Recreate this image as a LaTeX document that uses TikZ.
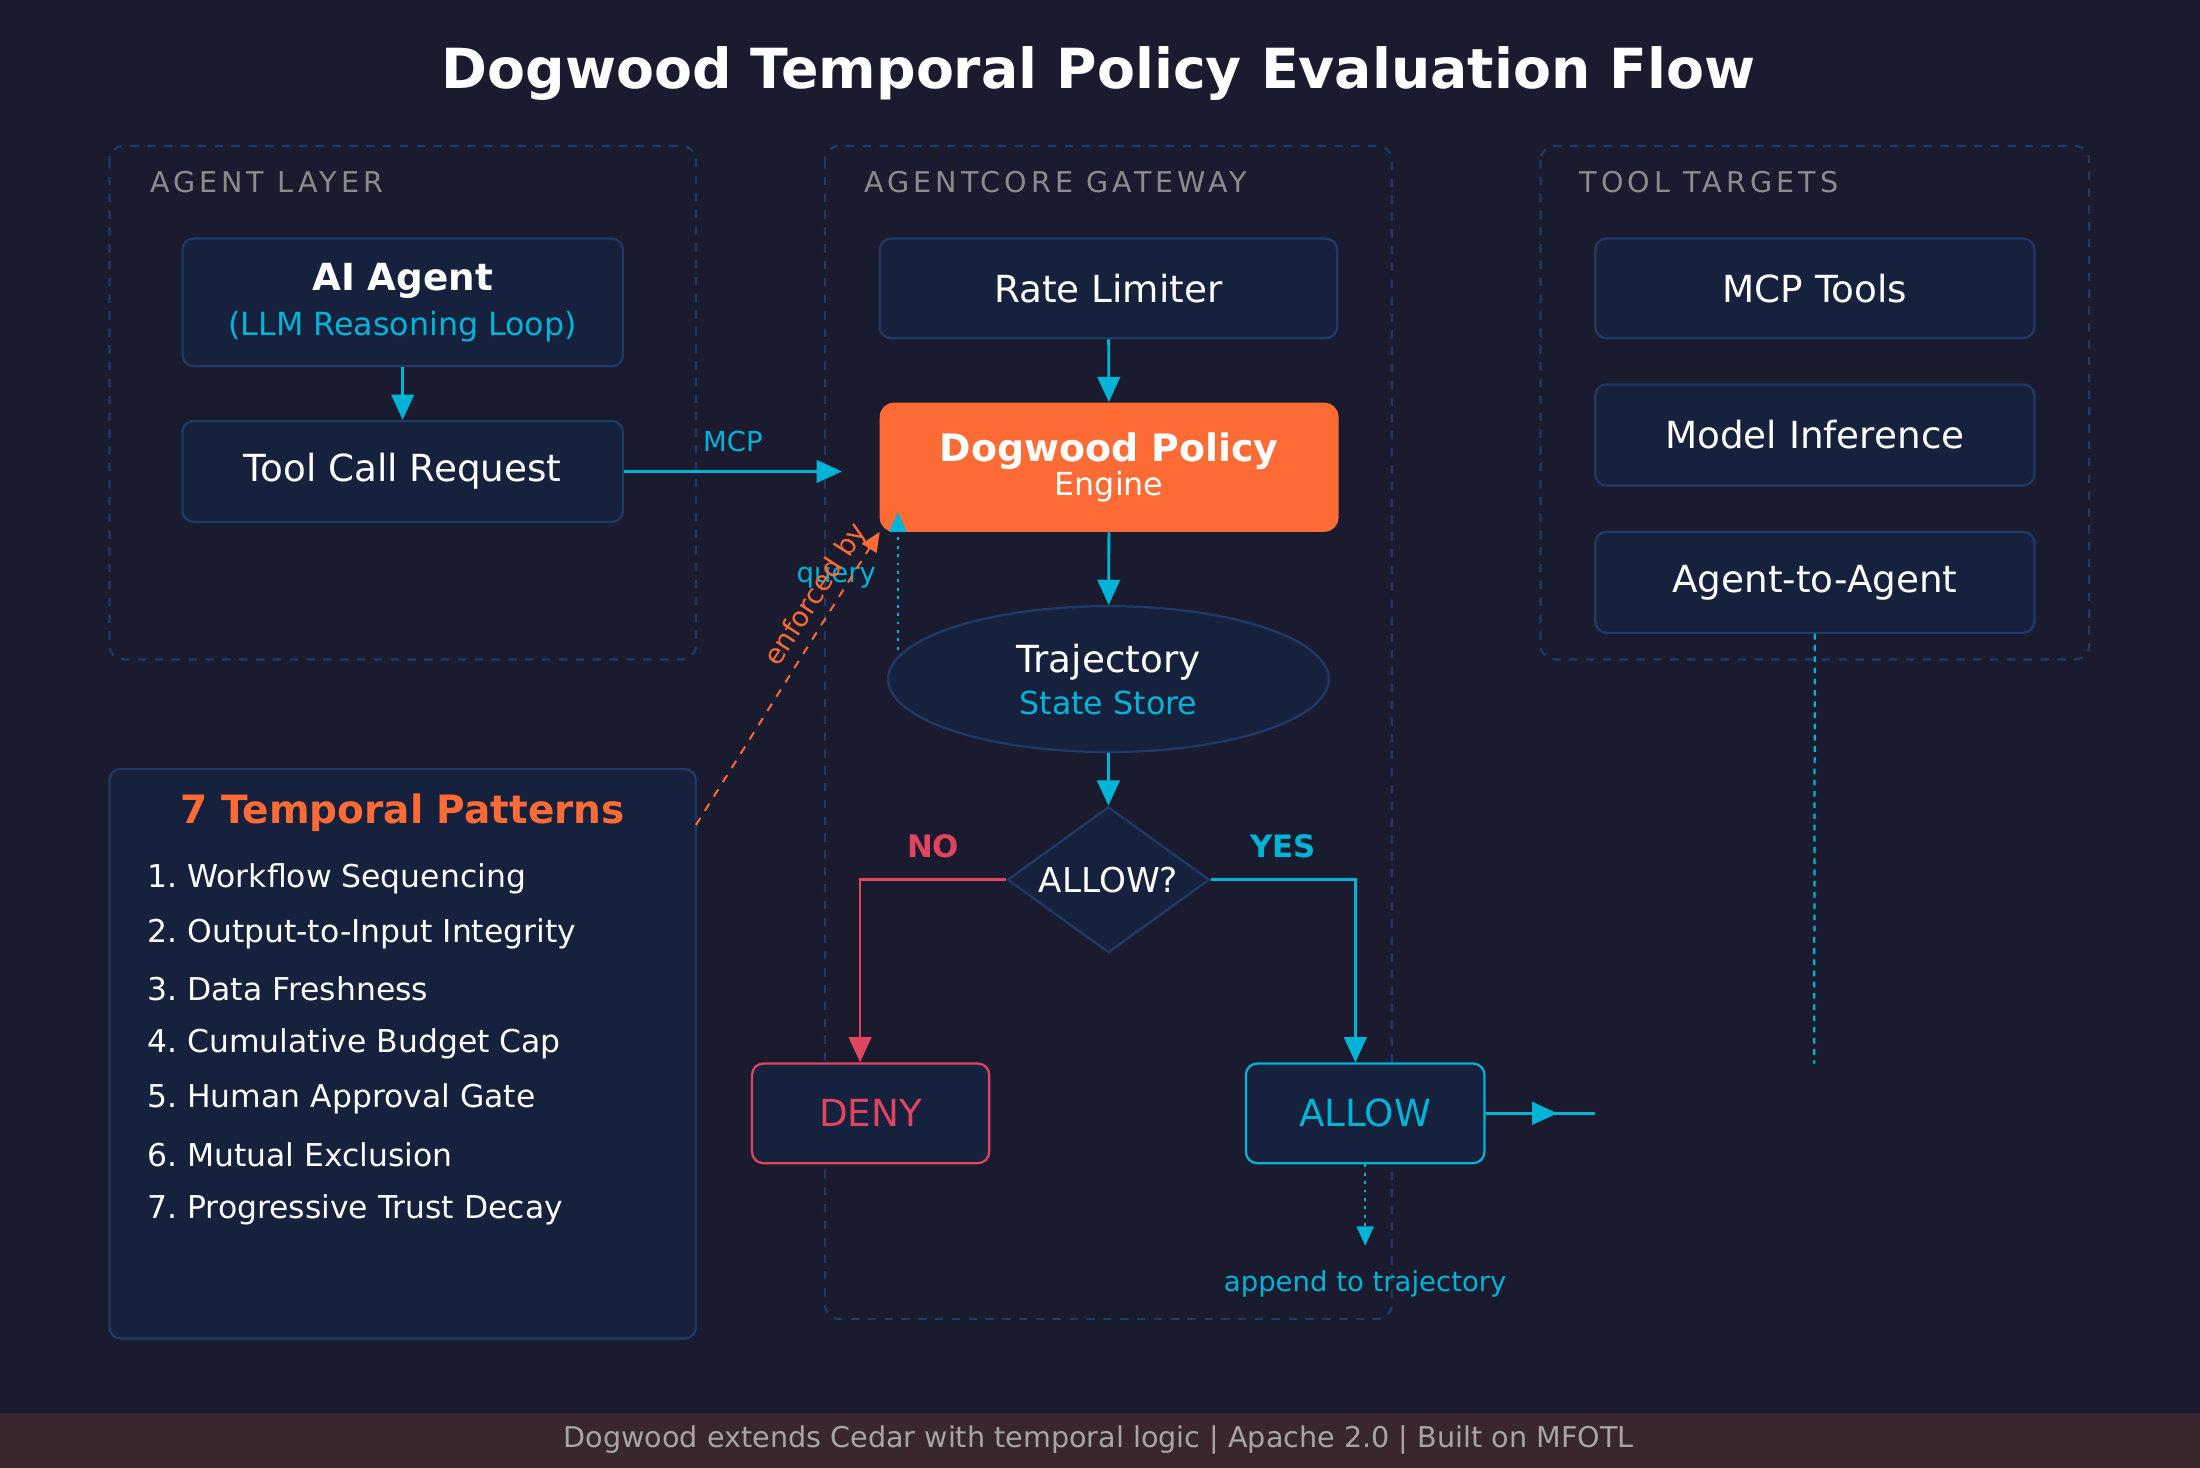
\documentclass[tikz,border=0pt]{standalone}
\usepackage{fontspec}
\setmainfont{DejaVu Sans}
\frenchspacing
\usetikzlibrary{arrows.meta,shapes.geometric,positioning}
\definecolor{bgc}{HTML}{1A1B2E}
\definecolor{boxc}{HTML}{16213E}
\definecolor{edgec}{HTML}{1F3A66}
\definecolor{cyanc}{HTML}{00B4D8}
\definecolor{orangec}{HTML}{FF6B35}
\definecolor{redc}{HTML}{E0455F}
\definecolor{footc}{HTML}{3A262E}
\newfontfamily\spaced[LetterSpace=14]{DejaVu Sans}
\tikzset{
  box/.style={draw=edgec, fill=boxc, rounded corners=4pt, line width=0.8pt, text=white, font=\fontsize{13.3}{15}\selectfont},
  group/.style={draw=edgec, dashed, rounded corners=5pt, line width=0.8pt},
  grouplabel/.style={anchor=west, text=gray!90, font=\spaced\fontsize{10.2}{12}\selectfont},
  flow/.style={cyanc, line width=1pt, -{Triangle[length=9pt,width=8pt]}},
  small/.style={font=\fontsize{9.8}{12}\selectfont}
}
\begin{document}
\begin{tikzpicture}[x=0.5pt,y=-0.5pt]
  \fill[bgc] (0,0) rectangle (1568,1046);
  \fill[footc] (0,1007) rectangle (1568,1046);
  \node[text=white, font=\bfseries\fontsize{19.7}{22}\selectfont] (title) at (783,52) {Dogwood Temporal Policy Evaluation Flow};
  \node[text=gray!70, font=\fontsize{10.2}{12}\selectfont] (footer) at (783,1026) {Dogwood extends Cedar with temporal logic | Apache 2.0 | Built on MFOTL};
  % groups
  \draw[group] (78,104) rectangle (496,470);
  \draw[group] (588,104) rectangle (992,940);
  \draw[group] (1098,104) rectangle (1489,470);
  \node[grouplabel] (lagent) at (100,130) {AGENT LAYER};
  \node[grouplabel] (lgate) at (609,130) {AGENTCORE GATEWAY};
  \node[grouplabel] (ltool) at (1119,130) {TOOL TARGETS};
  % agent layer
  \node[box, minimum width=157pt, minimum height=45.5pt, align=center] (agent) at (287,215.5)
    {\textbf{AI Agent}\\[1pt]{\color{cyanc}\fontsize{11.3}{13}\selectfont (LLM Reasoning Loop)}};
  \node[box, minimum width=157pt, minimum height=36pt] (request) at (287,336) {Tool Call Request};
  % gateway
  \node[box, minimum width=163pt, minimum height=35.5pt] (limiter) at (790,205.5) {Rate Limiter};
  \node[fill=orangec, rounded corners=5pt, minimum width=163.5pt, minimum height=46pt, align=center, text=white] (policy) at (790.5,333)
    {\fontsize{13.5}{15}\selectfont\bfseries Dogwood Policy\\[0pt]{\fontsize{11.3}{13}\selectfont\mdseries Engine}};
  \node[ellipse, draw=edgec, fill=boxc, line width=0.8pt, minimum width=157pt, minimum height=52pt, align=center, text=white, font=\fontsize{13.3}{15}\selectfont] (store) at (790,484)
    {Trajectory\\[0pt]{\color{cyanc}\fontsize{11.3}{13}\selectfont State Store}};
  \node[diamond, draw=edgec, fill=boxc, line width=0.8pt, minimum width=72pt, minimum height=52pt, inner sep=-3pt, text=white, font=\fontsize{12.2}{14}\selectfont] (decide) at (790,627) {ALLOW?};
  \node[box, draw=redc, text=redc, minimum width=84.5pt, minimum height=35.5pt] (deny) at (620.5,793.5) {DENY};
  \node[box, draw=cyanc, text=cyanc, minimum width=85pt, minimum height=35.5pt] (allow) at (973,793.5) {ALLOW};
  % tool targets
  \node[box, minimum width=156.5pt, minimum height=35.5pt] (mcp) at (1293.5,205.5) {MCP Tools};
  \node[box, minimum width=156.5pt, minimum height=36pt] (infer) at (1293.5,310) {Model Inference};
  \node[box, minimum width=156.5pt, minimum height=36pt] (a2a) at (1293.5,415) {Agent-to-Agent};
  % patterns
  \node[box, minimum width=209pt, minimum height=203pt] (patterns) at (287,751) {};
  \node[text=orangec, font=\bfseries\fontsize{13.9}{16}\selectfont] (ptitle) at (287,579) {7 Temporal Patterns};
  \foreach \i/\t in {1/Workflow Sequencing, 2/Output-to-Input Integrity, 3/Data Freshness, 4/Cumulative Budget Cap, 5/Human Approval Gate, 6/Mutual Exclusion, 7/Progressive Trust Decay}
    \node[anchor=west, text=white, font=\fontsize{11.2}{13}\selectfont] (p\i) at (98,587+39.3*\i) {\i.\ \t};
  % connectors
  \coordinate (mcpend) at (600,336);
  \coordinate (qfrom) at (640,463);
  \coordinate (qto) at (640,365);
  \coordinate (efrom) at (496,588);
  \coordinate (eto) at (627,379);
  \coordinate (appendend) at (973,888);
  \coordinate (outend) at (1137,793.5);
  \coordinate (tooldown) at (1293,758);
  \draw[flow] (agent) -- (request);
  \draw[flow] (request) -- node[above=3pt, small, text=cyanc] (lmcp) {MCP} (mcpend);
  \draw[flow] (limiter) -- (policy);
  \draw[flow] (policy) -- (store);
  \draw[flow] (store) -- (decide);
  \draw[flow, redc] (decide.west) -| node[pos=0.25, above=4pt, font=\bfseries\fontsize{11}{13}\selectfont] (lno) {NO} (deny.north -| 613,0);
  \draw[flow] (decide.east) -| node[pos=0.25, above=4pt, font=\bfseries\fontsize{11}{13}\selectfont] (lyes) {YES} (allow.north -| 966,0);
  \draw[flow, dotted, -{Triangle[length=7pt,width=6pt]}] (qfrom) -- (qto);
  \node[small, text=cyanc] (lquery) at (596,412) {query};
  \draw[orangec, dashed, line width=0.7pt, -{Triangle[length=7pt,width=6pt]}] (efrom) -- (eto);
  \node[small, text=orangec, rotate=57] (lenf) at (582,424) {enforced by};
  \draw[cyanc, line width=1pt] (allow) -- (outend);
  \draw[flow] (allow.east) -- (1110,793.5);
  \draw[flow, dotted, line width=0.8pt, -{Triangle[length=7pt,width=6pt]}] (allow.south -| appendend) -- (appendend);
  \node[small, text=cyanc] (lappend) at (973,915) {append to trajectory};
  \draw[cyanc, dashed, dash pattern=on 2pt off 2pt, line width=0.8pt] (a2a) -- (tooldown);
\end{tikzpicture}
\end{document}
